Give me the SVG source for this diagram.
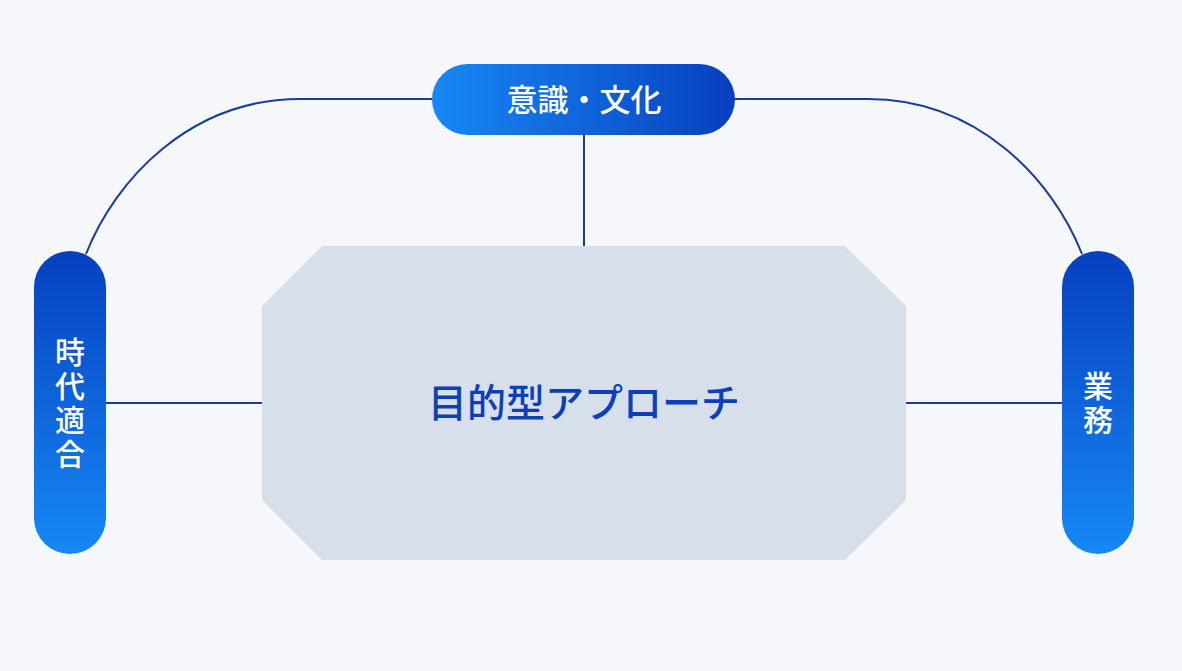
<svg xmlns="http://www.w3.org/2000/svg" width="1182" height="671" viewBox="0 0 1182 671">
  <defs>
    <linearGradient id="gH" x1="0" y1="0" x2="1" y2="0">
      <stop offset="0" stop-color="#1888f6"/>
      <stop offset="1" stop-color="#0740bf"/>
    </linearGradient>
    <linearGradient id="gV" x1="0" y1="0" x2="0" y2="1">
      <stop offset="0" stop-color="#0640c0"/>
      <stop offset="1" stop-color="#1688f6"/>
    </linearGradient>
    <style>
      .conn { fill: none; stroke: #1a3c9c; stroke-width: 2; }
      .lbl { font-family: "Noto Sans CJK JP", "Noto Sans", sans-serif; fill: #ffffff; font-size: 31px; text-anchor: middle; font-weight: 500; }
      .vert { writing-mode: vertical-rl; font-size: 30px; letter-spacing: 4px; }
      .main { font-family: "Noto Sans CJK JP", "Noto Sans", sans-serif; fill: #0c3fb8; font-size: 39px; text-anchor: middle; font-weight: 500; }
    </style>
  </defs>
  <rect x="0" y="0" width="1182" height="671" fill="#f5f7fa"/>
  <g id="connectors">
    <path class="conn" d="M584,135 V246"/>
    <path class="conn" d="M106,403 H262"/>
    <path class="conn" d="M906,403 H1062"/>
    <path class="conn" d="M432,99 H300 C190,99 115,180 86,254"/>
    <path class="conn" d="M735,99 H868 C978,99 1053,180 1082,254"/>
  </g>
  <g id="center">
    <polygon points="322,246 845,246 906,306 906,500 845,560 322,560 262,500 262,306" fill="#d7dfea"/>
    <text class="main" x="584" y="417">目的型アプローチ</text>
  </g>
  <g id="top">
    <rect x="432" y="64" width="303" height="71" rx="35.5" fill="url(#gH)"/>
    <text class="lbl" x="584" y="111">意識・文化</text>
  </g>
  <g id="left">
    <rect x="34" y="251" width="72" height="303" rx="36" fill="url(#gV)"/>
    <text class="lbl vert" x="70" y="405">時代適合</text>
  </g>
  <g id="right">
    <rect x="1062" y="251" width="72" height="303" rx="36" fill="url(#gV)"/>
    <text class="lbl vert" x="1098" y="405">業務</text>
  </g>
</svg>
